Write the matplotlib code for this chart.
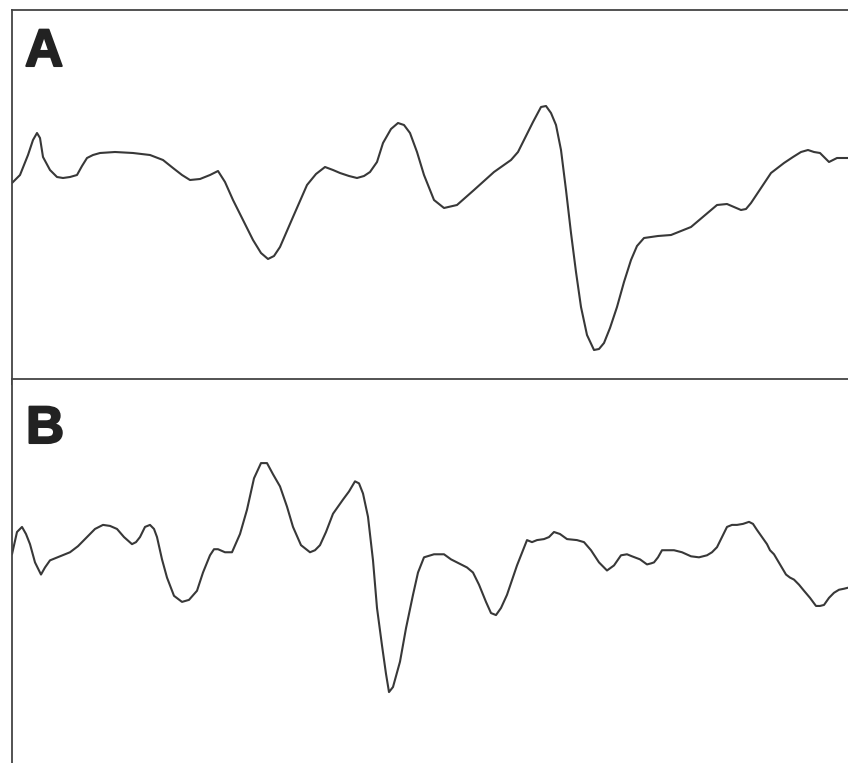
import matplotlib
matplotlib.use('Agg')
import matplotlib.pyplot as plt
import matplotlib.patheffects as pe

# Trazo A (tiempo, amplitud; eje vertical invertido)
t_a = [12, 20, 28, 33, 37, 40, 43, 50, 57, 63, 70, 77, 82, 87, 93, 100, 115, 133, 150,
       163, 173, 182, 190, 200, 210, 218, 225, 233, 243, 253, 261, 268, 274, 280, 293,
       307, 316, 325, 333, 340, 349, 357, 364, 370, 377, 383, 391, 398, 404, 410, 417,
       424, 434, 444, 457, 474, 494, 511, 518, 524, 533, 541, 546, 551, 556, 561, 566,
       571, 576, 581, 587, 594, 599, 604, 610, 617, 624, 631, 637, 644, 658, 671, 691,
       704, 717, 727, 734, 741, 746, 751, 761, 771, 784, 793, 801, 808, 814, 820, 824,
       829, 833, 837, 848]
y_a = [183, 175, 155, 140, 133, 138, 157, 170, 177, 178, 177, 175, 166, 158, 155, 153,
       152, 153, 155, 160, 168, 175, 180, 179, 175, 171, 182, 200, 220, 240, 253, 259,
       256, 247, 217, 185, 174, 167, 170, 173, 176, 178, 176, 172, 162, 143, 129, 123,
       125, 133, 152, 175, 200, 208, 205, 190, 172, 160, 152, 140, 122, 107, 106, 113,
       125, 150, 190, 233, 272, 307, 335, 350, 349, 343, 328, 307, 282, 260, 246, 238,
       236, 235, 227, 216, 205, 204, 207, 210, 209, 203, 188, 173, 163, 157, 152, 150,
       152, 153, 157, 162, 160, 158, 158]

# Trazo B
t_b = [12, 17, 22, 26, 30, 35, 41, 45, 50, 60, 70, 78, 87, 95, 103, 110, 117, 124, 132,
       136, 140, 145, 150, 154, 157, 162, 167, 174, 182, 189, 197, 203, 210, 214, 218,
       225, 232, 240, 247, 254, 261, 267, 273, 280, 287, 293, 301, 310, 315, 320, 326,
       333, 338, 343, 349, 355, 359, 363, 368, 373, 377, 382, 386, 389, 393, 400, 406,
       413, 418, 424, 434, 444, 451, 459, 467, 473, 479, 486, 491, 496, 501, 507, 517,
       527, 532, 537, 544, 549, 554, 560, 567, 577, 584, 591, 599, 607, 614, 621, 627,
       632, 640, 647, 651, 654, 658, 662, 668, 674, 682, 691, 699, 707, 712, 717, 722,
       727, 732, 737, 743, 749, 753, 757, 762, 767, 770, 774, 780, 786, 790, 794, 799,
       804, 810, 816, 820, 824, 829, 834, 839, 844, 848]
y_b = [557, 535, 530, 537, 547, 565, 577, 570, 563, 559, 555, 549, 540, 532, 528, 529,
       532, 540, 547, 545, 540, 530, 528, 532, 540, 562, 580, 598, 604, 602, 593, 575,
       558, 552, 552, 555, 555, 537, 513, 482, 467, 467, 478, 490, 510, 530, 548, 555,
       553, 548, 535, 517, 510, 503, 495, 485, 487, 497, 520, 563, 610, 647, 675, 693,
       688, 663, 630, 597, 575, 560, 557, 557, 562, 566, 570, 575, 587, 604, 615, 617,
       610, 597, 568, 543, 545, 543, 542, 540, 535, 537, 542, 543, 545, 553, 565, 573,
       568, 558, 557, 559, 562, 567, 566, 565, 560, 553, 553, 553, 555, 559, 560, 558,
       555, 550, 540, 530, 528, 528, 527, 525, 527, 533, 540, 547, 553, 557, 567, 577,
       580, 582, 587, 593, 600, 608, 608, 607, 600, 595, 592, 591, 590]

color = '#383838'

fig = plt.figure(figsize=(8.48, 7.63), dpi=100)
W, H = 848.0, 763.0

ax_a = fig.add_axes([12 / W, 1 - 384 / H, (848 - 12) / W, (384 - 10) / H])
ax_b = fig.add_axes([12 / W, 0, (848 - 12) / W, 384 / H])

ax_a.plot(t_a, y_a, color=color, lw=1.5, solid_joinstyle='round', solid_capstyle='round')
ax_b.plot(t_b, y_b, color=color, lw=1.5, solid_joinstyle='round', solid_capstyle='round')

ax_a.set_xlim(12, 848)
ax_a.set_ylim(384, 10)
ax_b.set_xlim(12, 848)
ax_b.set_ylim(763, 384)

for ax in (ax_a, ax_b):
    ax.set_xticks([])
    ax.set_yticks([])
    ax.spines['right'].set_visible(False)
    for s in ('left', 'top', 'bottom'):
        ax.spines[s].set_color('#444444')
        ax.spines[s].set_linewidth(1.3)
ax_b.spines['bottom'].set_visible(False)

stroke = [pe.withStroke(linewidth=1.5, foreground='#222222')]
fig.text(25 / W, 1 - 66 / H, 'A', fontsize=38, fontweight='bold',
         family='Liberation Sans', color='#222222', va='baseline', path_effects=stroke)
fig.text(26 / W, 1 - 443 / H, 'B', fontsize=38, fontweight='bold',
         family='Liberation Sans', color='#222222', va='baseline', path_effects=stroke)

fig.savefig('out.png', dpi=100)
